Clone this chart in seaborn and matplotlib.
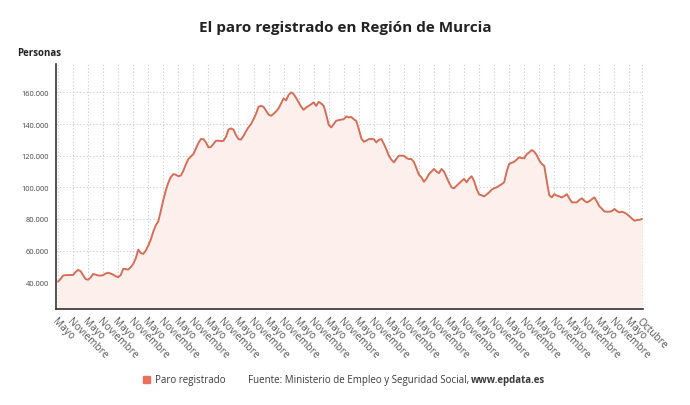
import numpy as np
import pandas as pd
import matplotlib
matplotlib.use("Agg")
import matplotlib.pyplot as plt
import seaborn as sns
from matplotlib.ticker import FuncFormatter

# Paro registrado mensual, desde mayo de 2005 hasta octubre de 2024 (miles de personas)
inicio = "2005-05-01"
paro_miles = [
    40.5, 42.0, 44.2, 44.5, 44.5, 44.6, 44.6, 46.5, 47.8, 47.0, 44.5, 42.0,
    41.6, 43.0, 45.2, 44.8, 44.3, 44.2, 44.5, 45.5, 46.0, 45.5, 44.8, 43.8,
    43.2, 44.5, 48.5, 48.3, 48.0, 49.5, 51.6, 55.0, 60.6, 58.5, 57.9, 60.0,
    63.1, 67.0, 72.0, 76.0, 78.5, 85.0, 92.0, 98.0, 103.0, 106.5, 108.4, 108.0,
    107.0, 107.5, 110.5, 114.5, 117.9, 119.5, 121.0, 124.5, 128.0, 130.5, 130.5, 128.5,
    125.3, 125.5, 127.5, 129.4, 129.5, 129.2, 129.4, 132.0, 136.5, 137.3, 136.5, 133.0,
    130.5, 130.2, 132.5, 135.5, 138.0, 140.0, 143.1, 146.5, 151.0, 151.5, 150.9, 148.5,
    146.0, 145.2, 146.5, 148.0, 149.9, 153.0, 156.2, 155.0, 158.5, 160.0, 159.0, 156.5,
    153.7, 151.0, 149.0, 150.5, 151.5, 152.5, 153.7, 151.5, 154.0, 153.0, 151.5, 146.0,
    139.5, 137.9, 140.0, 142.1, 142.5, 142.8, 143.1, 144.8, 144.2, 144.5, 143.0, 142.0,
    136.8, 131.0, 128.8, 129.5, 130.5, 130.5, 130.5, 128.4, 130.0, 130.5, 127.5, 124.0,
    120.0, 117.5, 115.8, 118.0, 120.0, 120.0, 120.0, 118.5, 117.9, 117.9, 116.0, 112.0,
    108.0, 106.3, 103.5, 105.5, 108.4, 110.0, 111.6, 110.0, 109.0, 111.6, 110.0, 106.5,
    103.0, 100.0, 99.4, 101.0, 102.5, 104.0, 105.3, 103.2, 105.5, 107.0, 104.0, 99.0,
    95.5, 95.0, 94.3, 95.5, 96.8, 98.5, 99.4, 100.0, 101.0, 102.0, 103.2, 110.0,
    114.8, 115.5, 116.2, 117.5, 119.0, 118.5, 118.3, 121.0, 122.1, 123.6, 122.5, 120.4,
    117.0, 114.8, 113.5, 104.0, 95.0, 93.7, 95.7, 94.8, 94.3, 93.6, 94.5, 95.7,
    93.0, 90.5, 90.5, 90.5, 92.0, 93.1, 91.5, 90.5, 91.2, 92.5, 93.7, 91.0,
    88.0, 86.5, 84.8, 84.6, 84.6, 85.0, 86.3, 85.0, 84.2, 84.6, 84.0, 83.0,
    81.7, 80.2, 78.9, 79.3, 79.5, 80.0,
]
meses_es = ["Enero", "Febrero", "Marzo", "Abril", "Mayo", "Junio", "Julio",
            "Agosto", "Septiembre", "Octubre", "Noviembre", "Diciembre"]
y_ticks = [40000, 60000, 80000, 100000, 120000, 140000, 160000]

fechas = pd.date_range(inicio, periods=len(paro_miles), freq="MS")
df = pd.DataFrame({"idx": np.arange(len(paro_miles)),
                   "paro": np.array(paro_miles) * 1000,
                   "mes": [meses_es[f.month - 1] for f in fechas]})

sns.set_style("white")
plt.rcParams["font.family"] = ["Open Sans", "DejaVu Sans"]

line_color = "#d36f57"
fill_color = "#fdf0ec"
text_color = "#3a3a3a"

fig = plt.figure(figsize=(6.9, 4.06), dpi=100)
ax = fig.add_axes([0.0812, 0.2365, 0.8507, 0.6035])

ax.fill_between(df["idx"], df["paro"], 0, color=fill_color, lw=0, zorder=1)
sns.lineplot(data=df, x="idx", y="paro", ax=ax, color=line_color, lw=1.4, zorder=3)

# ticks cada 6 meses (mayo / noviembre) y el último mes
tick_pos = list(df["idx"][df["mes"].isin(["Mayo", "Noviembre"])])
if tick_pos[-1] != df["idx"].iloc[-1]:
    tick_pos.append(df["idx"].iloc[-1])
ax.set_xticks(tick_pos)
ax.set_xticklabels(df["mes"].iloc[tick_pos], rotation=-45, ha="left",
                   rotation_mode="anchor", fontsize=7.3, color="#555555")
ax.set_yticks(y_ticks)
ax.yaxis.set_major_formatter(FuncFormatter(lambda v, p: f"{int(v):,}".replace(",", ".")))
ax.tick_params(axis="y", labelsize=5.3, labelcolor="#444444", length=3, width=0.8,
               color="#333333", pad=2)
ax.tick_params(axis="x", length=3, width=0.8, color="#333333", pad=1.5)

ax.set_xlim(-0.8, 233.4)
ax.set_ylim(23100, 178000)
ax.grid(True, color="#d2d2d2", linestyle=(0, (1.2, 1.8)), lw=0.8)
ax.set_axisbelow(True)
for s in ["top", "right"]:
    ax.spines[s].set_visible(False)
for s in ["left", "bottom"]:
    ax.spines[s].set_color("#333333")
    ax.spines[s].set_linewidth(1.2)
ax.set_xlabel("")
ax.set_ylabel("")

fig.text(0.5, 0.932, "El paro registrado en Región de Murcia", ha="center", va="center",
         fontsize=11, fontweight="bold", color="#222222")
fig.text(0.025, 0.867, "Personas", ha="left", va="center", fontsize=7,
         fontweight="bold", color="#222222")

# pie: leyenda y fuente
fig.patches.append(plt.Rectangle((0.2075, 0.054), 0.0105, 0.0185, transform=fig.transFigure,
                                 color="#e8735a", figure=fig))
fig.text(0.2245, 0.062, "Paro registrado", ha="left", va="center", fontsize=7, color=text_color)
t1 = fig.text(0.359, 0.062, "Fuente: Ministerio de Empleo y Seguridad Social, ", ha="left",
              va="center", fontsize=7, color=text_color)
fig.canvas.draw()
bb = t1.get_window_extent(renderer=fig.canvas.get_renderer())
x_next = bb.x1 / fig.bbox.width
fig.text(x_next, 0.062, "www.epdata.es", ha="left", va="center", fontsize=7,
         fontweight="bold", color=text_color)

fig.savefig("out.png", dpi=100)
